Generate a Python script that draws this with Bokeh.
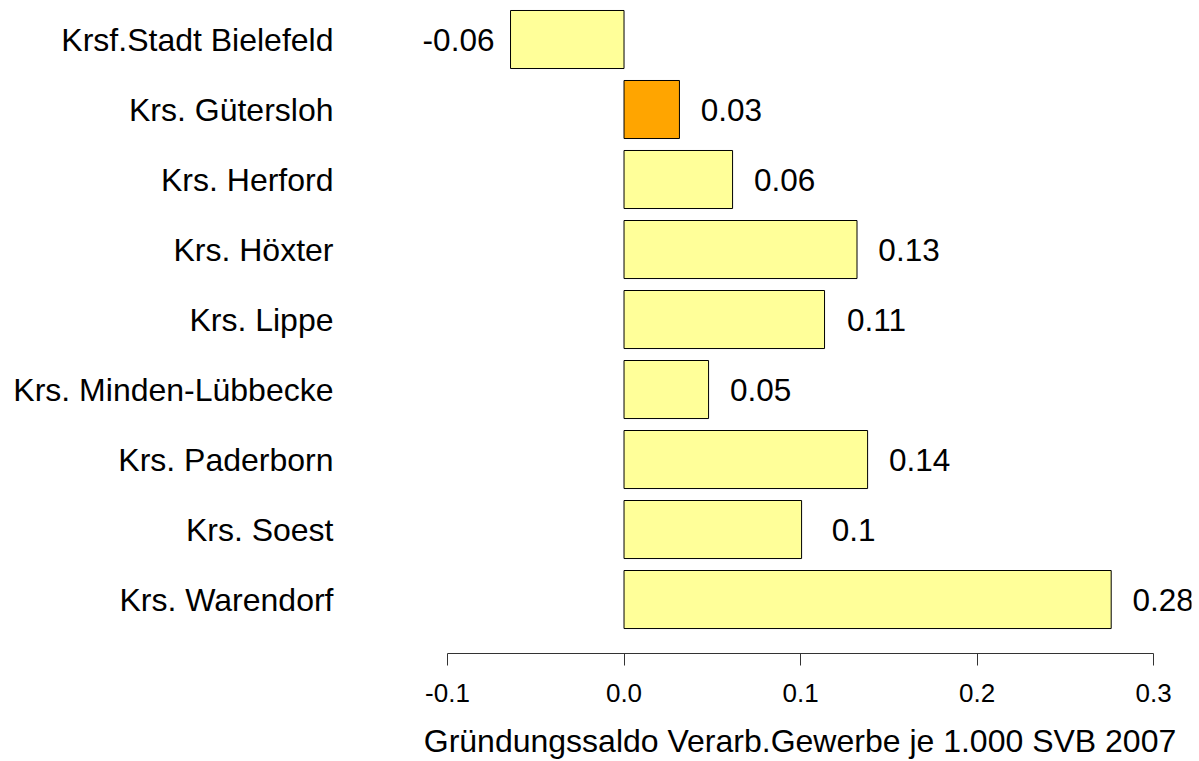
from bokeh.plotting import figure
from bokeh.models import ColumnDataSource, FixedTicker, PrintfTickFormatter, Range1d, LinearAxis
from bokeh.embed import file_html
from bokeh.resources import INLINE
from bokeh.core.properties import value

categories = ["Krsf.Stadt Bielefeld", "Krs. Gütersloh", "Krs. Herford", "Krs. Höxter",
              "Krs. Lippe", "Krs. Minden-Lübbecke", "Krs. Paderborn", "Krs. Soest",
              "Krs. Warendorf"]
values = [-0.0643, 0.0314, 0.0615, 0.1320, 0.1136, 0.0479, 0.1380, 0.1006, 0.2760]
value_labels = ["-0.06", "0.03", "0.06", "0.13", "0.11", "0.05", "0.14", "0.1", "0.28"]
x_ticks = [-0.1, 0.0, 0.1, 0.2, 0.3]
x_title = "Gründungssaldo Verarb.Gewerbe je 1.000 SVB 2007"
highlight = "Krs. Gütersloh"

FONT = "Liberation Sans"
n = len(categories)
ypos = [n - 1 - i for i in range(n)]
colors = ["#FFA500" if c == highlight else "#FFFF99" for c in categories]
offsets = [52 if v >= 0 else -52 for v in values]

src = ColumnDataSource(dict(y=ypos, v=values, lab=value_labels, col=colors, off=offsets))

p = figure(width=1199, height=761, output_backend="svg", toolbar_location=None,
           x_range=Range1d(-0.1221, 0.3215), y_range=Range1d(-0.771, n - 1 + 0.443),
           x_axis_location=None, y_axis_location=None,
           min_border_left=408, min_border_right=8, min_border_top=8, min_border_bottom=108)
p.outline_line_color = None
p.xgrid.visible = False
p.ygrid.visible = False
p.background_fill_color = "white"
p.border_fill_color = "white"

p.hbar(y="y", left=0, right="v", height=0.829, source=src, fill_color="col",
       line_color="black", line_width=1)
p.text(x="v", y="y", text="lab", source=src, x_offset="off", text_align="center",
       text_baseline="middle", text_font=value(FONT), text_font_size="31.5px", text_color="black")

xa = LinearAxis(ticker=FixedTicker(ticks=x_ticks), formatter=PrintfTickFormatter(format="%.1f"),
                bounds=(x_ticks[0], x_ticks[-1]))
xa.axis_label = x_title
xa.axis_label_text_font = FONT
xa.axis_label_text_font_size = "32px"
xa.axis_label_text_font_style = "normal"
xa.axis_label_text_color = "black"
xa.axis_label_standoff = 18
xa.major_label_text_font = FONT
xa.major_label_text_font_size = "26px"
xa.major_label_text_color = "black"
xa.major_label_standoff = 18
xa.major_tick_out = 12
xa.major_tick_in = 0
xa.minor_tick_out = 0
xa.minor_tick_in = 0
xa.axis_line_color = "#333333"
xa.major_tick_line_color = "#333333"
p.add_layout(xa, "below")

ya = LinearAxis(ticker=FixedTicker(ticks=ypos),
                major_label_overrides={y: c for y, c in zip(ypos, categories)})
ya.axis_line_color = None
ya.major_tick_line_color = None
ya.minor_tick_line_color = None
ya.major_label_text_font = FONT
ya.major_label_text_font_size = "32px"
ya.major_label_text_color = "black"
ya.major_label_standoff = 69
p.add_layout(ya, "left")

open("out.html", "w").write(file_html(p, INLINE))
